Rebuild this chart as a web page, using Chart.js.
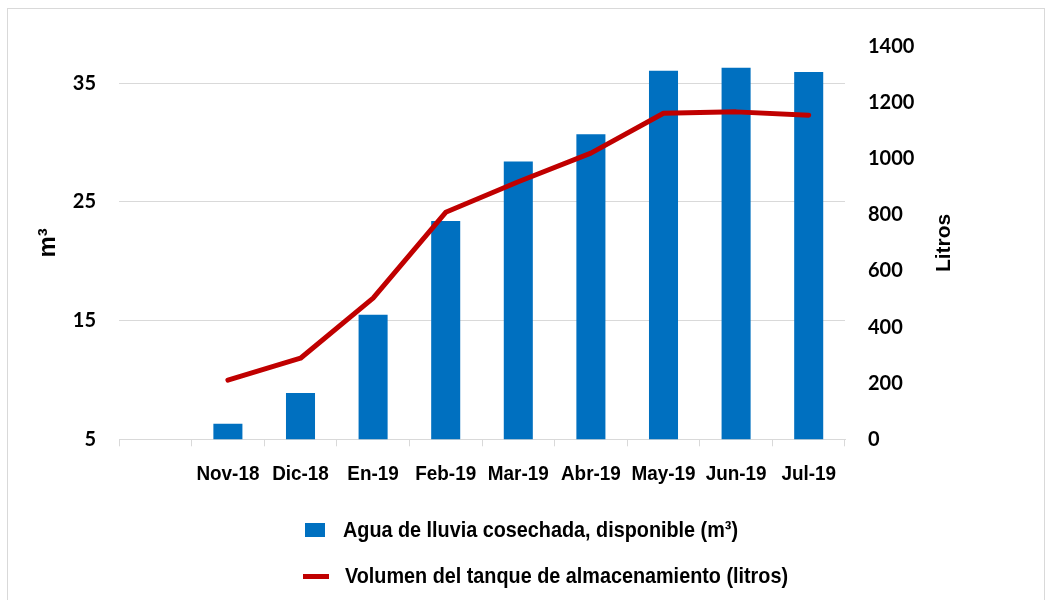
<!DOCTYPE html>
<html><head><meta charset="utf-8">
<script src="https://cdn.jsdelivr.net/npm/chart.js@4.4.0/dist/chart.umd.min.js"></script>
<style>
html,body{margin:0;padding:0;background:#fff;}
#wrap{position:relative;width:1052px;height:600px;overflow:hidden;background:#fff;}
#frame{position:absolute;left:7px;top:8px;width:1038px;height:620px;border:1px solid #d9d9d9;box-sizing:border-box;}
#c{position:absolute;left:0;top:0;}
.item{position:absolute;white-space:nowrap;font-family:"Liberation Sans",Arial,sans-serif;font-weight:bold;font-size:22px;color:#000;line-height:26px;transform:scaleX(0.9);transform-origin:0 50%;}
.mk{position:absolute;}
</style></head>
<body>
<div id="wrap">
<div id="frame"></div>
<canvas id="c" width="1052" height="600"></canvas>
<div id="legend"></div>
</div>
<script>
const categories = ["", "Nov-18", "Dic-18", "En-19", "Feb-19", "Mar-19", "Abr-19", "May-19", "Jun-19", "Jul-19"];
const aguaCosechada = [null, 6.3, 8.9, 15.5, 23.4, 28.4, 30.7, 36.05, 36.3, 35.95];
const volumenTanque = [null, 211, 289, 503, 809, 918, 1020, 1162, 1167, 1155];
const leftTicks = [5, 15, 25, 35];
const rightTicks = [0, 200, 400, 600, 800, 1000, 1200, 1400];
const seriesNames = ["Agua de lluvia cosechada, disponible (m³)", "Volumen del tanque de almacenamiento (litros)"];
const axisTitles = ["m³", "Litros"];

const BLUE = '#0070C0', RED = '#C00000', GRID = '#d9d9d9';
const tickFont = {family: 'Lato', weight: 'bold', size: 20};

// Right axis title (reads bottom-to-top like the left one) and narrow x labels
const extraText = {
  id: 'extraText',
  afterDraw(chart) {
    const ctx = chart.ctx, a = chart.chartArea;
    const s = chart.scales.y1;
    ctx.save();
    ctx.translate(s.left + 99, (a.top + a.bottom) / 2);
    ctx.rotate(-Math.PI / 2);
    ctx.font = 'bold 21px "Liberation Sans", Arial, sans-serif';
    ctx.fillStyle = '#000';
    ctx.textAlign = 'center';
    ctx.textBaseline = 'middle';
    ctx.fillText(axisTitles[1], 0, 0);
    ctx.restore();

    const x = chart.scales.x;
    ctx.save();
    ctx.font = 'bold 21px "Liberation Sans", Arial, sans-serif';
    ctx.fillStyle = '#000';
    ctx.textAlign = 'center';
    ctx.textBaseline = 'alphabetic';
    categories.forEach((lab, i) => {
      if (!lab) return;
      ctx.save();
      ctx.translate(x.getPixelForValue(i), x.top + 41);
      ctx.scale(0.9, 1);
      ctx.fillText(lab, 0, 0);
      ctx.restore();
    });
    ctx.restore();
  }
};

const chart = new Chart(document.getElementById('c'), {
  type: 'bar',
  data: {
    labels: categories,
    datasets: [
      {type: 'line', label: seriesNames[1], data: volumenTanque, yAxisID: 'y1',
       borderColor: RED, backgroundColor: RED, borderWidth: 5, pointRadius: 0,
       tension: 0, order: 0, borderCapStyle: 'round', borderJoinStyle: 'round'},
      {type: 'bar', label: seriesNames[0], data: aguaCosechada, yAxisID: 'y',
       backgroundColor: BLUE, categoryPercentage: 1, barPercentage: 0.4, order: 1}
    ]
  },
  options: {
    responsive: false, animation: false,
    layout: {padding: {left: 10, top: 46.5, right: 87, bottom: 110.7}},
    plugins: {legend: {display: false}, tooltip: {enabled: false}},
    scales: {
      x: {
        grid: {offset: true, drawOnChartArea: false, drawTicks: true, tickLength: 7, color: GRID},
        border: {color: GRID},
        ticks: {display: false, autoSkip: false},
        afterFit(s) { s.height = 50; }
      },
      y: {
        position: 'left', min: 5, max: 38.1,
        afterBuildTicks(s) { s.ticks = leftTicks.map(v => ({value: v})); },
        grid: {color: GRID, drawTicks: false},
        border: {display: false},
        ticks: {font: tickFont, color: '#000', padding: 23},
        title: {display: true, text: axisTitles[0], color: '#000',
                font: {family: '"Liberation Sans"', weight: 'bold', size: 24}, padding: {top: 23.6, bottom: 0}},
        afterFit(s) { s.width = 109; }
      },
      y1: {
        position: 'right', min: 0, max: 1400,
        afterBuildTicks(s) { s.ticks = rightTicks.map(v => ({value: v})); },
        grid: {drawOnChartArea: false, drawTicks: false},
        border: {display: false},
        ticks: {font: tickFont, color: '#000', padding: 23, callback: v => String(v)},
        afterFit(s) { s.width = 120; }
      }
    }
  },
  plugins: [extraText]
});

// HTML legend built from the chart's datasets
const legend = document.getElementById('legend');
const items = [
  {ds: chart.data.datasets[1], top: 517, mk: {left: 305, top: 523, w: 20, h: 14}, textLeft: 343},
  {ds: chart.data.datasets[0], top: 563, mk: {left: 303, top: 574, w: 26, h: 5}, textLeft: 345}
];
items.forEach(it => {
  const m = document.createElement('div');
  m.className = 'mk';
  Object.assign(m.style, {left: it.mk.left + 'px', top: it.mk.top + 'px', width: it.mk.w + 'px', height: it.mk.h + 'px', background: it.ds.backgroundColor});
  legend.appendChild(m);
  const t = document.createElement('div');
  t.className = 'item';
  t.style.left = it.textLeft + 'px';
  t.style.top = it.top + 'px';
  t.textContent = it.ds.label;
  legend.appendChild(t);
});
</script>
</body></html>
